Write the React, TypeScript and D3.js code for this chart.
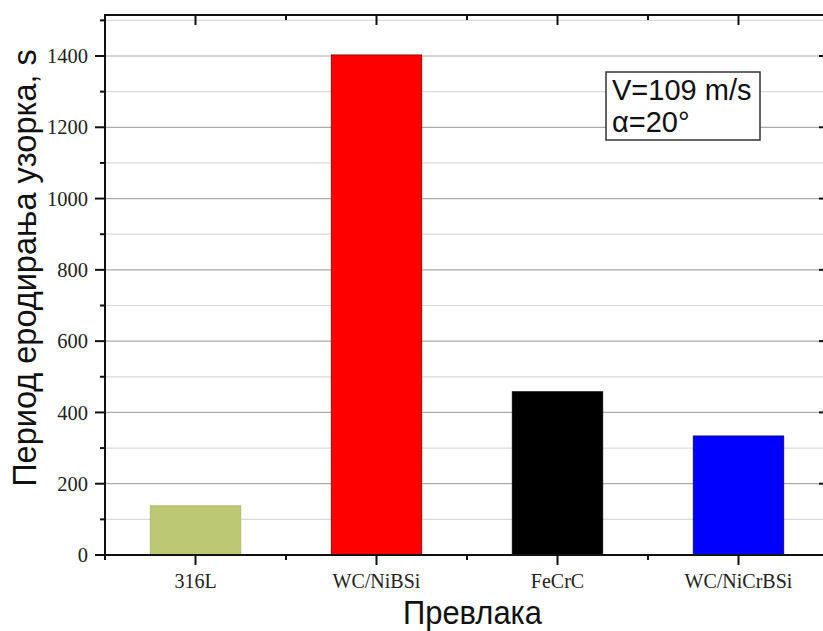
import React from "react";
import * as d3 from "d3";

// Coatings and their erosion periods (s)
const coatings = ["316L", "WC/NiBSi", "FeCrC", "WC/NiCrBSi"];
const periods = [138, 1403, 458, 334];
const barColors = ["#bdc874", "#ff0000", "#000000", "#0000ff"];
const barStrokes = ["#a9b460", "#7a0000", "#000000", "#00007a"];
const majorTicks = [0, 200, 400, 600, 800, 1000, 1200, 1400];
const minorTicks = [100, 300, 500, 700, 900, 1100, 1300, 1500];
const annotation = ["V=109 m/s", "α=20°"];

const W = 823;
const H = 631;
const plot = { left: 105, right: 829, top: 15, bottom: 555 };

export default function App() {
  const x = d3
    .scaleBand<string>()
    .domain(coatings)
    .range([plot.left, plot.right])
    .paddingInner(0.5)
    .paddingOuter(0.25);
  const y = d3.scaleLinear().domain([0, 1515]).range([plot.bottom, plot.top]);

  const step = x.step();
  const centers = coatings.map((c) => (x(c) as number) + x.bandwidth() / 2);
  const between = centers.map((c) => c - step / 2).concat([centers[centers.length - 1] + step / 2]);

  const serif = "'Liberation Serif', 'Times New Roman', serif";
  const sans = "'Liberation Sans', Arial, sans-serif";

  return (
    <svg
      width={W}
      height={H}
      style={{ position: "absolute", left: 0, top: 0, background: "#fff" }}
    >
      {/* grid */}
      {minorTicks.map((t) => (
        <line key={"mg" + t} x1={plot.left} x2={plot.right} y1={y(t)} y2={y(t)} stroke="#dadada" strokeWidth={1.2} />
      ))}
      {majorTicks.slice(1).map((t) => (
        <line key={"Mg" + t} x1={plot.left} x2={plot.right} y1={y(t)} y2={y(t)} stroke="#ababab" strokeWidth={1.2} />
      ))}

      {/* bars */}
      {coatings.map((c, i) => (
        <rect
          key={c}
          x={x(c)}
          y={y(periods[i])}
          width={x.bandwidth()}
          height={y(0) - y(periods[i])}
          fill={barColors[i]}
          stroke={barStrokes[i]}
          strokeWidth={0.8}
        />
      ))}

      {/* frame */}
      <rect
        x={plot.left}
        y={plot.top}
        width={plot.right - plot.left}
        height={plot.bottom - plot.top}
        fill="none"
        stroke="#111"
        strokeWidth={2}
      />

      {/* left axis ticks (outward) and right axis ticks (inward) */}
      {majorTicks.map((t) => (
        <g key={"lt" + t}>
          <line x1={plot.left - 10} x2={plot.left} y1={y(t)} y2={y(t)} stroke="#111" strokeWidth={2} />
          <line x1={plot.right - 10} x2={plot.right} y1={y(t)} y2={y(t)} stroke="#111" strokeWidth={2} />
          <text
            x={plot.left - 17}
            y={y(t)}
            dy="0.35em"
            textAnchor="end"
            fontFamily={serif}
            fontSize={20.5}
            fill="#222"
          >
            {t}
          </text>
        </g>
      ))}
      {minorTicks.map((t) => (
        <g key={"mt" + t}>
          <line x1={plot.left - 5} x2={plot.left} y1={y(t)} y2={y(t)} stroke="#111" strokeWidth={2} />
          <line x1={plot.right - 5} x2={plot.right} y1={y(t)} y2={y(t)} stroke="#111" strokeWidth={2} />
        </g>
      ))}

      {/* bottom ticks (outward) and top ticks (inward) */}
      {centers.map((cx, i) => (
        <g key={"bt" + i}>
          <line x1={cx} x2={cx} y1={plot.bottom} y2={plot.bottom + 10} stroke="#111" strokeWidth={2} />
          <line x1={cx} x2={cx} y1={plot.top} y2={plot.top + 10} stroke="#111" strokeWidth={2} />
          <text x={cx} y={plot.bottom + 33} textAnchor="middle" fontFamily={serif} fontSize={20} fill="#222">
            {coatings[i]}
          </text>
        </g>
      ))}
      {between.map((bx, i) => (
        <g key={"bm" + i}>
          <line x1={bx} x2={bx} y1={plot.bottom} y2={plot.bottom + 5} stroke="#111" strokeWidth={2} />
          <line x1={bx} x2={bx} y1={plot.top} y2={plot.top + 5} stroke="#111" strokeWidth={2} />
        </g>
      ))}

      {/* axis titles */}
      <text
        transform={`translate(36, ${(plot.top + plot.bottom) / 2 - 17}) rotate(-90)`}
        textAnchor="middle"
        fontFamily={sans}
        fontSize={32.5}
        fill="#111"
      >
        Период еродирања узорка, s
      </text>
      <text
        x={472.5}
        y={624}
        textAnchor="middle"
        fontFamily={sans}
        fontSize={33}
        textLength={139}
        lengthAdjust="spacingAndGlyphs"
        fill="#111"
      >
        Превлака
      </text>

      {/* conditions box */}
      <rect x={606} y={72} width={154} height={68} fill="#fff" stroke="#333" strokeWidth={1.5} />
      {annotation.map((s, i) => (
        <text key={s} x={612} y={100 + i * 32} fontFamily={sans} fontSize={29} fill="#111">
          {s}
        </text>
      ))}
    </svg>
  );
}
